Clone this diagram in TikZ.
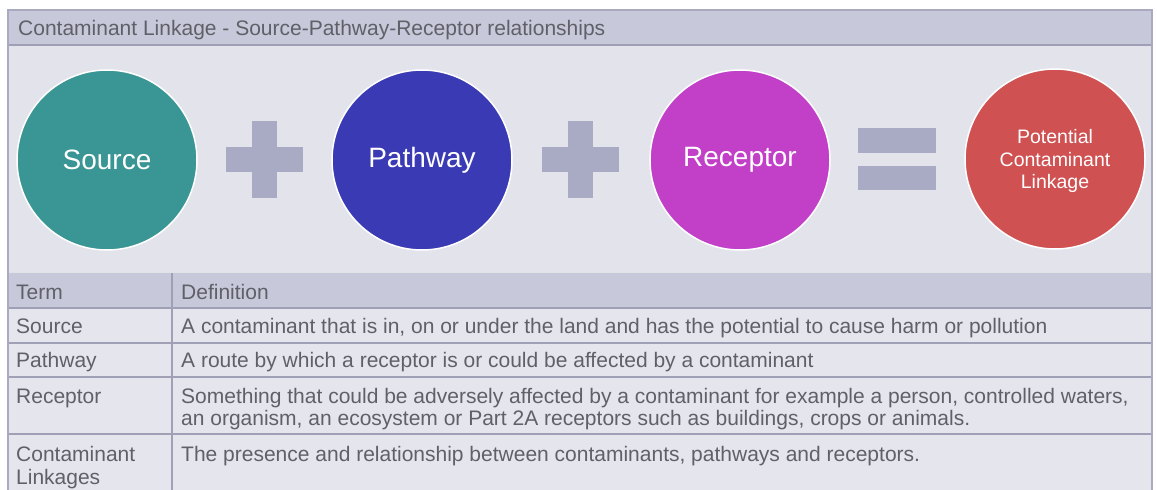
\documentclass[tikz,border=0pt]{standalone}
\usepackage{fontspec}
\setmainfont{Liberation Sans}
\definecolor{panelbg}{HTML}{E2E3EB}
\definecolor{rowbg}{HTML}{E4E5ED}
\definecolor{headbg}{HTML}{C7C8DA}
\definecolor{rulecol}{HTML}{9FA0B5}
\definecolor{framecol}{HTML}{A9AABF}
\definecolor{txtcol}{HTML}{606068}
\definecolor{signcol}{HTML}{A9AAC4}
\definecolor{srccol}{HTML}{3A9694}
\definecolor{pathcol}{HTML}{3A3AB4}
\definecolor{reccol}{HTML}{C23FC8}
\definecolor{potcol}{HTML}{D05152}
\tikzset{
  circ/.style={circle, minimum size=180pt, inner sep=0pt, draw=white, line width=1.5pt, text=white},
  bigtxt/.style={font=\fontsize{28}{32}\selectfont},
  smalltxt/.style={font=\fontsize{19.5}{22.5}\selectfont, align=center, text=white, inner sep=0pt},
  tabtxt/.style={anchor=base west, inner sep=0pt, text=txtcol, font=\fontsize{21}{23}\selectfont},
  tabrule/.style={draw=rulecol, line width=2pt},
  signbar/.style={fill=signcol}
}
\begin{document}
\begin{tikzpicture}[x=1pt,y=-1pt]
\useasboundingbox (0,0) rectangle (1157,490);
\fill[white] (0,0) rectangle (1157,490);
% panels
\fill[panelbg] (8,10) rectangle (1152,490);
\fill[headbg] (8,10) rectangle (1152,45);
\fill[rowbg] (8,308) rectangle (1152,490);
\fill[headbg] (8,273) rectangle (1152,308);
% rules
\draw[tabrule] (8,45) -- (1152,45);
\draw[draw=white!70!rulecol, line width=2pt] (8,272) -- (1152,272);
\draw[tabrule] (8,308) -- (1152,308);
\draw[tabrule] (8,343) -- (1152,343);
\draw[tabrule] (8,377) -- (1152,377);
\draw[tabrule] (8,434) -- (1152,434);
\draw[tabrule] (172,273) -- (172,490);
\draw[draw=framecol, line width=2pt] (8,490) -- (8,10) -- (1152,10) -- (1152,490);
% title
\node[tabtxt] (title) at (18,35) {Contaminant Linkage - Source-Pathway-Receptor relationships};
% circles
\node[circ, fill=srccol, bigtxt] (src) at (107,160) {Source};
\node[circ, fill=pathcol, bigtxt] (path) at (422,160) {Pathway};
\node[circ, fill=reccol, bigtxt] (rec) at (740,160) {Receptor};
\node[circ, fill=potcol] (pot) at (1055,159) {};
\node[smalltxt] (potlbl) at ([yshift=-2pt]pot.center) {Potential\\Contaminant\\Linkage};
% plus signs
\fill[signbar] (226,147) rectangle (303,172);
\fill[signbar] (252,121) rectangle (277,198);
\fill[signbar] (542,147) rectangle (619,172);
\fill[signbar] (568,121) rectangle (593,198);
% equals
\fill[signbar] (858,128) rectangle (936,153);
\fill[signbar] (858,166) rectangle (936,190);
% table header
\node[tabtxt] (hterm) at (16,299) {Term};
\node[tabtxt] (hdef) at (181,299) {Definition};
% rows
\node[tabtxt] (t1) at (16,333) {Source};
\node[tabtxt] (d1) at (181,333) {A contaminant that is in, on or under the land and has the potential to cause harm or pollution};
\node[tabtxt] (t2) at (16,367) {Pathway};
\node[tabtxt] (d2) at (181,367) {A route by which a receptor is or could be affected by a contaminant};
\node[tabtxt] (t3) at (16,403) {Receptor};
\node[tabtxt] (d3a) at (181,403) {Something that could be adversely affected by a contaminant for example a person, controlled waters,};
\node[tabtxt] (d3b) at (181,425) {an organism, an ecosystem or Part 2A receptors such as buildings, crops or animals.};
\node[tabtxt] (t4a) at (16,461) {Contaminant};
\node[tabtxt] (t4b) at (16,484) {Linkages};
\node[tabtxt] (d4) at (181,461) {The presence and relationship between contaminants, pathways and receptors.};
\end{tikzpicture}
\end{document}
